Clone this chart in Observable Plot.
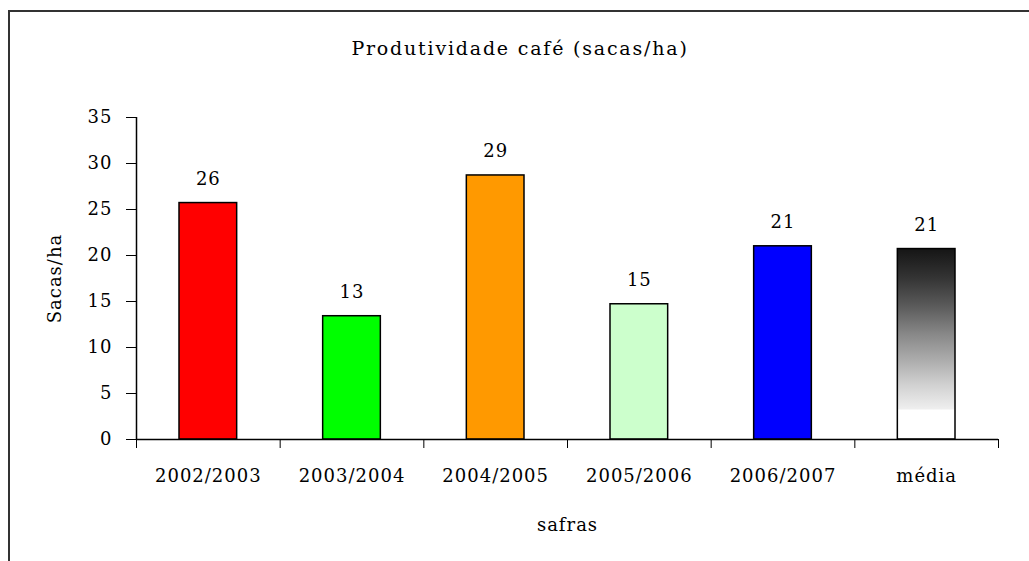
<!DOCTYPE html>
<html><head><meta charset="utf-8">
<script src="https://cdn.jsdelivr.net/npm/d3@7"></script>
<script src="https://cdn.jsdelivr.net/npm/@observablehq/plot@0.6"></script>
<style>
body{margin:0;background:#fff;}
#wrap{position:relative;width:1029px;height:561px;overflow:hidden;background:#fff;font-family:"DejaVu Serif";}
#border{position:absolute;left:8px;top:10px;width:1100px;height:600px;border-left:2px solid #333;border-top:2px solid #333;}
#title{position:absolute;top:36px;left:0;width:1040px;text-align:center;font-size:19px;letter-spacing:1.8px;color:#000;line-height:24px;}
#chart{position:absolute;left:0;top:0;}
</style></head><body>
<div id="wrap"><div id="border"></div><div id="title">Produtividade café (sacas/ha)</div><div id="chart"></div></div>
<script>
const safras = ["2002/2003", "2003/2004", "2004/2005", "2005/2006", "2006/2007", "média"];
const valores = [25.7, 13.4, 28.7, 14.7, 21.0, 20.7];
const rotulos = ["26", "13", "29", "15", "21", "21"];
const cores = ["#ff0000", "#00ff00", "#ff9900", "#ccffcc", "#0000ff", "url(#mediaGrad)"];
const yTicks = [0, 5, 10, 15, 20, 25, 30, 35];
const xBoundaries = [0, 1, 2, 3, 4, 5, 6];

const data = safras.map((s, i) => ({i, safra: s, valor: valores[i], rotulo: rotulos[i], cor: cores[i]}));

const chart = Plot.plot({
  width: 1029,
  height: 561,
  marginLeft: 136,
  marginRight: 31,
  marginTop: 117,
  marginBottom: 122,
  style: {fontFamily: "DejaVu Serif", fontSize: "18px", letterSpacing: "1px", background: "transparent", color: "#000"},
  x: {type: "linear", domain: [0, 6]},
  y: {domain: [0, 35]},
  color: {type: "identity"},
  marks: [
    Plot.rectY(data, {x1: "i", x2: d => d.i + 1, y: "valor", fill: "cor", stroke: "#000", strokeWidth: 1.5, insetLeft: 43, insetRight: 43}),
    Plot.ruleY([0], {stroke: "#000", strokeWidth: 1.5}),
    Plot.ruleX([0], {y1: 0, y2: 35, stroke: "#000", strokeWidth: 1.5}),
    Plot.axisY({ticks: yTicks, tickSize: 10, tickPadding: 14, label: "Sacas/ha", labelAnchor: "center", labelOffset: 88, labelArrow: "none"}),
    Plot.axisX({ticks: xBoundaries, tickFormat: () => "", tickSize: 9, label: "safras", labelAnchor: "center", labelOffset: 91, labelArrow: "none"}),
    Plot.text(data, {x: d => d.i + 0.5, y: 0, text: "safra", dy: 37, lineAnchor: "middle"}),
    Plot.text(data, {x: d => d.i + 0.5, y: "valor", text: "rotulo", dy: -24, lineAnchor: "middle"})
  ]
});

const ns = "http://www.w3.org/2000/svg";
const defs = document.createElementNS(ns, "defs");
const grad = document.createElementNS(ns, "linearGradient");
grad.setAttribute("id", "mediaGrad");
grad.setAttribute("x1", "0"); grad.setAttribute("y1", "0");
grad.setAttribute("x2", "0"); grad.setAttribute("y2", "1");
[[0, "#151515"], [0.15, "#333"], [0.3, "#5a5a5a"], [0.45, "#888"], [0.6, "#b0b0b0"], [0.72, "#d2d2d2"], [0.84, "#eeeeee"], [0.85, "#fff"], [1, "#fff"]].forEach(([o, c]) => {
  const s = document.createElementNS(ns, "stop");
  s.setAttribute("offset", o);
  s.setAttribute("stop-color", c);
  grad.appendChild(s);
});
defs.appendChild(grad);
chart.insertBefore(defs, chart.firstChild);
document.getElementById("chart").appendChild(chart);
</script>
</body></html>
